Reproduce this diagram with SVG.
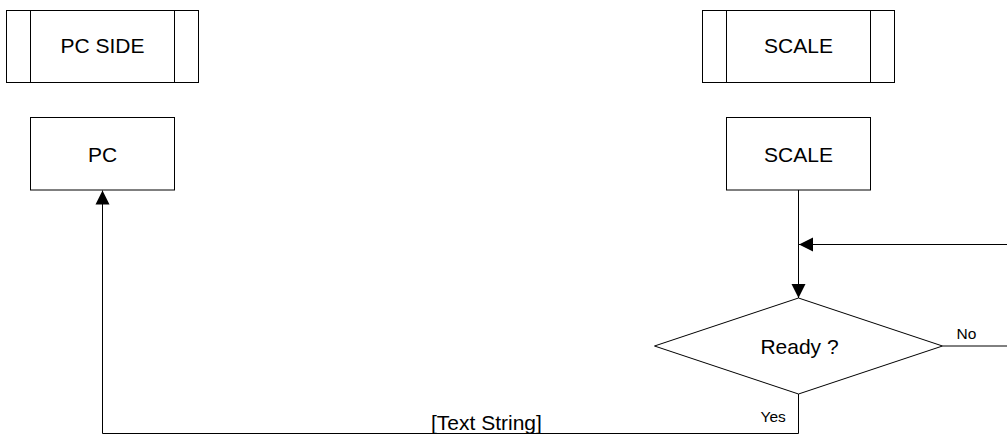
<svg xmlns="http://www.w3.org/2000/svg" width="1007" height="444" viewBox="0 0 1007 444">
<style>
.box{fill:#fff;stroke:#000;stroke-width:1}
.ln{fill:none;stroke:#000;stroke-width:1}
.t{font-family:"Liberation Sans",Arial,sans-serif;font-size:21px;fill:#000;text-anchor:middle}
.s{font-family:"Liberation Sans",Arial,sans-serif;font-size:15.5px;fill:#000}
</style>
<defs>
<marker id="ah" markerUnits="userSpaceOnUse" markerWidth="16" markerHeight="16" viewBox="0 0 16 16" refX="15" refY="8" orient="auto">
<path d="M1,1 L15,8 L1,15 Z" fill="#000"/>
</marker>
</defs>
<rect width="1007" height="444" fill="#fff"/>
<g id="pc-side">
<rect class="box" x="6.5" y="10.5" width="192" height="72"/>
<line class="ln" x1="30.5" y1="10.5" x2="30.5" y2="82.5"/>
<line class="ln" x1="174.5" y1="10.5" x2="174.5" y2="82.5"/>
<text class="t" x="102.5" y="53">PC SIDE</text>
</g>
<g id="scale-side">
<rect class="box" x="702.5" y="10.5" width="192" height="72"/>
<line class="ln" x1="726.5" y1="10.5" x2="726.5" y2="82.5"/>
<line class="ln" x1="870.5" y1="10.5" x2="870.5" y2="82.5"/>
<text class="t" x="798.5" y="53">SCALE</text>
</g>
<g id="pc">
<rect class="box" x="30.5" y="117.5" width="144" height="72.5"/>
<text class="t" x="102.5" y="161.5">PC</text>
</g>
<g id="scale">
<rect class="box" x="726.5" y="117.5" width="144" height="72.5"/>
<text class="t" x="798.5" y="161.5">SCALE</text>
</g>
<g id="ready">
<polygon class="box" points="798.5,298 942.5,346 798.5,394 654.5,346"/>
<text class="t" x="799.5" y="353.5">Ready ?</text>
</g>
<g id="connectors">
<line class="ln" x1="798.5" y1="190" x2="798.5" y2="298" marker-end="url(#ah)"/>
<line class="ln" x1="1007" y1="244.5" x2="799" y2="244.5" marker-end="url(#ah)"/>
<line class="ln" x1="942.5" y1="346" x2="1007" y2="346"/>
<text class="s" x="956.5" y="339">No</text>
<polyline class="ln" points="798.5,394 798.5,433.5 102.5,433.5 102.5,190.5" marker-end="url(#ah)"/>
<text class="s" x="760.5" y="422">Yes</text>
<text class="t" x="431" y="430" text-anchor="start" style="text-anchor:start">[Text String]</text>
</g>
</svg>
